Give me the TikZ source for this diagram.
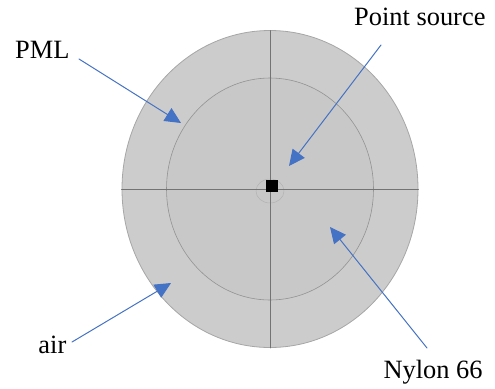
\documentclass[tikz,border=0pt]{standalone}
\usepackage{fontspec}
\setmainfont{Liberation Serif}
\newfontfamily\labelfont{Liberation Serif}
\usetikzlibrary{arrows.meta}

\definecolor{pointer}{HTML}{4472C4}
\definecolor{ringgray}{HTML}{CCCCCC}
\definecolor{coregray}{HTML}{C8C8C8}

\begin{document}
\begin{tikzpicture}[
			x=1bp, y=-1bp,
			every node/.style={font=\labelfont\fontsize{26.5}{30}\selectfont, inner sep=0pt},
			pointerline/.style={draw=pointer, line width=1pt, -{Triangle[length=16bp, width=15bp]}},
			line cap=round,
			line join=round
			]
			\useasboundingbox (0,0) rectangle (495,388);
			
			% Regions
			\filldraw[fill=ringgray, draw=gray!70, line width=0.8pt] (270,189) ellipse (148 and 158.5);
			\filldraw[fill=coregray, draw=gray!85, line width=0.6pt] (270,189) ellipse (103.5 and 111);
			\draw[gray!60, line width=0.5pt] (270,191) ellipse (14 and 12);
			
			% Axes
			\draw[gray!90!black, line width=0.9pt] (121.5,189.5) -- (418.5,189.5);
			\draw[gray!90!black, line width=0.9pt] (270,30.5) -- (270,348);
			
			% Point source
			\fill[black] (266,179.5) rectangle (278,191.5);
			
			% Labels
			\node[anchor=base west] (pml) at (15,58.3) {PML};
			\node[anchor=base west] (src) at (354,25.3) {Point source};
			\node[anchor=base west] (air) at (38.3,353) {air};
			\node[anchor=base west] (nylon) at (383.3,378.3) {Nylon 66};
			
			% Pointers
			\coordinate (pmlTail) at (79,59);
			\coordinate (pmlTip) at (181,123);
			\coordinate (srcTail) at (381,45);
			\coordinate (srcTip) at (289,166);
			\coordinate (airTail) at (72,342);
			\coordinate (airTip) at (171,283);
			\coordinate (nylonTail) at (427,348);
			\coordinate (nylonTip) at (330,227);
			
			\draw[pointerline] (pmlTail) -- (pmlTip);
			\draw[pointerline] (srcTail) -- (srcTip);
			\draw[pointerline] (airTail) -- (airTip);
			\draw[pointerline] (nylonTail) -- (nylonTip);
		\end{tikzpicture}
\end{document}
